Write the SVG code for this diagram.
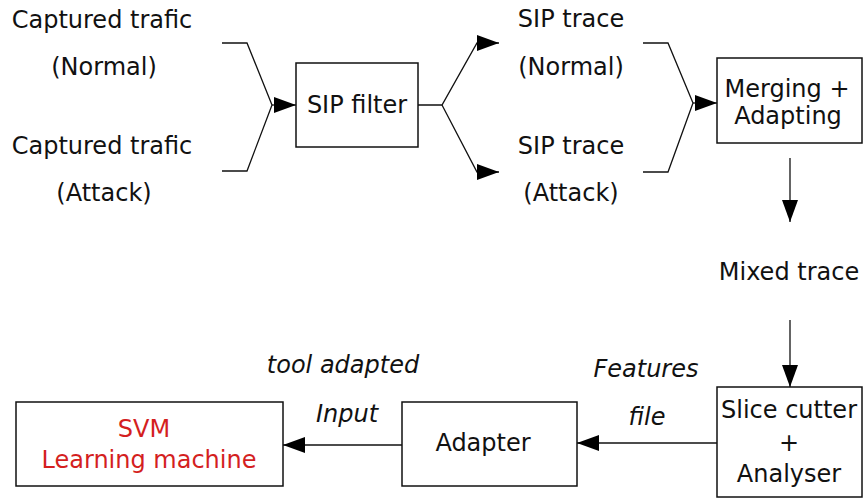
<svg xmlns="http://www.w3.org/2000/svg" width="863" height="499" viewBox="0 0 863 499">
<defs>
<style>
text{font-family:"DejaVu Sans","Liberation Sans",sans-serif;font-size:24px;fill:#111;text-anchor:middle}
.it{font-style:italic}
.red{fill:#d41f1f}
.box{fill:#fff;stroke:#111;stroke-width:1.5}
.ln{fill:none;stroke:#111;stroke-width:1.3}
</style>
<marker id="ah" markerUnits="userSpaceOnUse" markerWidth="22" markerHeight="18" refX="22" refY="9" orient="auto">
<path d="M0,1 L22,9 L0,17 Z" fill="#000"/>
</marker>
</defs>
<rect width="863" height="499" fill="#fff"/>
<g id="connectors">
<path class="ln" d="M222,43 H247 L272,105 L247,171 H222"/>
<path class="ln" d="M272,105 H296" marker-end="url(#ah)"/>
<path class="ln" d="M418,105 H442 L477,43 H499" marker-end="url(#ah)"/>
<path class="ln" d="M442,105 L477,172 H499" marker-end="url(#ah)"/>
<path class="ln" d="M643,43 H668 L693,103 L668,172 H643"/>
<path class="ln" d="M693,103 H717" marker-end="url(#ah)"/>
<path class="ln" d="M790,158 V222" marker-end="url(#ah)"/>
<path class="ln" d="M790,320 V387" marker-end="url(#ah)"/>
<path class="ln" d="M717,443 H577" marker-end="url(#ah)"/>
<path class="ln" d="M402,445 H283" marker-end="url(#ah)"/>
</g>
<g id="captured-normal">
<text x="102" y="28">Captured trafic</text>
<text x="104" y="75">(Normal)</text>
</g>
<g id="captured-attack">
<text x="102" y="154">Captured trafic</text>
<text x="104" y="201">(Attack)</text>
</g>
<g id="sip-filter">
<rect class="box" x="296" y="63" width="122" height="84"/>
<text x="357" y="113">SIP filter</text>
</g>
<g id="sip-trace-normal">
<text x="571" y="27">SIP trace</text>
<text x="571" y="75">(Normal)</text>
</g>
<g id="sip-trace-attack">
<text x="571" y="154">SIP trace</text>
<text x="571" y="201">(Attack)</text>
</g>
<g id="merging">
<rect class="box" x="717" y="58" width="145" height="85"/>
<text x="787" y="97">Merging +</text>
<text x="788" y="124">Adapting</text>
</g>
<g id="mixed-trace">
<text x="789" y="280">Mixed trace</text>
</g>
<g id="slice-cutter">
<rect class="box" x="717" y="387" width="145" height="110"/>
<text x="789" y="418">Slice cutter</text>
<text x="789" y="451">+</text>
<text x="789" y="482">Analyser</text>
</g>
<g id="features-file">
<text class="it" x="646" y="377">Features</text>
<text class="it" x="647" y="425">file</text>
</g>
<g id="adapter">
<rect class="box" x="402" y="402" width="175" height="84"/>
<text x="483" y="451">Adapter</text>
</g>
<g id="tool-input">
<text class="it" x="343" y="373">tool adapted</text>
<text class="it" x="347" y="422">Input</text>
</g>
<g id="svm">
<rect class="box" x="16" y="402" width="267" height="84"/>
<text class="red" x="144" y="437">SVM</text>
<text class="red" x="149" y="468">Learning machine</text>
</g>
</svg>
